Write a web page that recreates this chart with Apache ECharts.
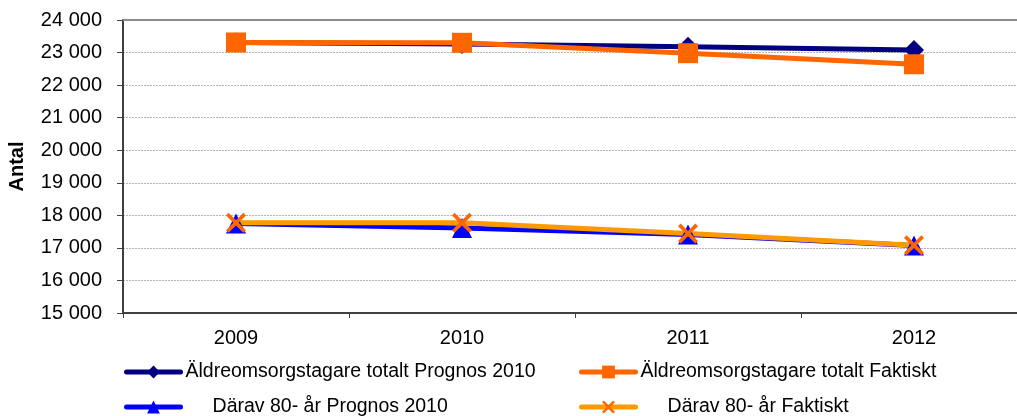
<!DOCTYPE html>
<html>
<head>
<meta charset="utf-8">
<script src="https://cdn.jsdelivr.net/npm/echarts@6/dist/echarts.min.js"></script>
<style>
html,body{margin:0;padding:0;background:#fff;overflow:hidden;}
#c{width:1017px;height:416px;}
</style>
</head>
<body>
<div id="c"></div>
<script>
var categories = ['2009', '2010', '2011', '2012'];
var totalPrognos = [23310, 23260, 23180, 23080];
var totalFaktiskt = [23310, 23300, 22980, 22640];
var over80Prognos = [17750, 17610, 17410, 17070];
var over80Faktiskt = [17770, 17770, 17440, 17080];
var seriesNames = [
  'Äldreomsorgstagare totalt Prognos 2010',
  'Äldreomsorgstagare totalt Faktiskt',
  'Därav 80- år Prognos 2010',
  'Därav 80- år Faktiskt'
];
var yTicks = { min: 15000, max: 24000, interval: 1000 };

var FONT = 'Liberation Sans, Arial, sans-serif';
var xPath = 'path://M0,1.3L1.3,0L5,3.7L8.7,0L10,1.3L6.3,5L10,8.7L8.7,10L5,6.3L1.3,10L0,8.7L3.7,5Z';

var chart = echarts.init(document.getElementById('c'), null, { renderer: 'canvas' });

function legendAt(name, left, top, pad) {
  return {
    data: [name], left: left, top: top, orient: 'horizontal',
    itemWidth: 54, itemHeight: 16, itemGap: 0, padding: 0,
    selectedMode: false,
    lineStyle: { width: 5, cap: 'round' },
    textStyle: { fontFamily: FONT, fontSize: 19.5, color: '#000', padding: [0, 0, 0, 0] },
    formatter: function (n) { return pad + n; }
  };
}

chart.setOption({
  animation: false,
  backgroundColor: '#fff',
  grid: { left: 123, top: 20, width: 904, height: 293, show: false,
          containLabel: false, outerBoundsMode: 'none' },
  legend: [
    legendAt(seriesNames[0], 124, 362, ''),
    legendAt(seriesNames[1], 579, 362, ''),
    legendAt(seriesNames[2], 124, 397, '     '),
    legendAt(seriesNames[3], 579, 397, '     ')
  ],
  xAxis: [{
    type: 'category', data: categories, boundaryGap: true,
    axisLine: { lineStyle: { color: '#404040', width: 2 } },
    axisTick: { show: true, length: 5, lineStyle: { color: '#404040', width: 1 } },
    axisLabel: { fontFamily: FONT, fontSize: 20, color: '#000', margin: 15 },
    splitLine: { show: false }, splitArea: { show: false }
  }, {
    type: 'category', data: categories, position: 'top', boundaryGap: true,
    axisLine: { show: true, lineStyle: { color: '#8c8c8c', width: 2 } },
    axisTick: { show: false }, axisLabel: { show: false }, splitLine: { show: false }, splitArea: { show: false }
  }],
  yAxis: {
    type: 'value', min: yTicks.min, max: yTicks.max, interval: yTicks.interval,
    name: 'Antal', nameLocation: 'middle', nameGap: 96, nameRotate: 90,
    nameTextStyle: { fontFamily: FONT, fontSize: 20, fontWeight: 'bold', color: '#000' },
    axisLine: { show: true, lineStyle: { color: '#404040', width: 2 } },
    axisTick: { show: true, length: 6, lineStyle: { color: '#404040', width: 1 } },
    axisLabel: {
      fontFamily: FONT, fontSize: 20, color: '#000', margin: 21,
      formatter: function (v) { return String(v).replace(/\B(?=(\d{3})+(?!\d))/g, ' '); }
    },
    splitLine: { show: true, lineStyle: { color: '#b4b4b4', width: 1, type: [2, 1] } },
    splitArea: { show: false }
  },
  series: [
    {
      name: seriesNames[0], type: 'line', data: totalPrognos,
      symbol: 'diamond', symbolSize: 20, showAllSymbol: true,
      lineStyle: { color: '#000080', width: 5 },
      itemStyle: { color: '#000080' }
    },
    {
      name: seriesNames[1], type: 'line', data: totalFaktiskt,
      symbol: 'rect', symbolSize: 20, showAllSymbol: true,
      lineStyle: { color: '#FF6600', width: 5 },
      itemStyle: { color: '#FF6600' }
    },
    {
      name: seriesNames[2], type: 'line', data: over80Prognos,
      symbol: 'triangle', symbolSize: 20, showAllSymbol: true,
      lineStyle: { color: '#0000FF', width: 5 },
      itemStyle: { color: '#0000FF' }
    },
    {
      name: seriesNames[3], type: 'line', data: over80Faktiskt,
      symbol: xPath, symbolSize: 20, showAllSymbol: true,
      lineStyle: { color: '#FF9900', width: 5 },
      itemStyle: { color: '#FF6600' }
    }
  ]
});
</script>
</body>
</html>
